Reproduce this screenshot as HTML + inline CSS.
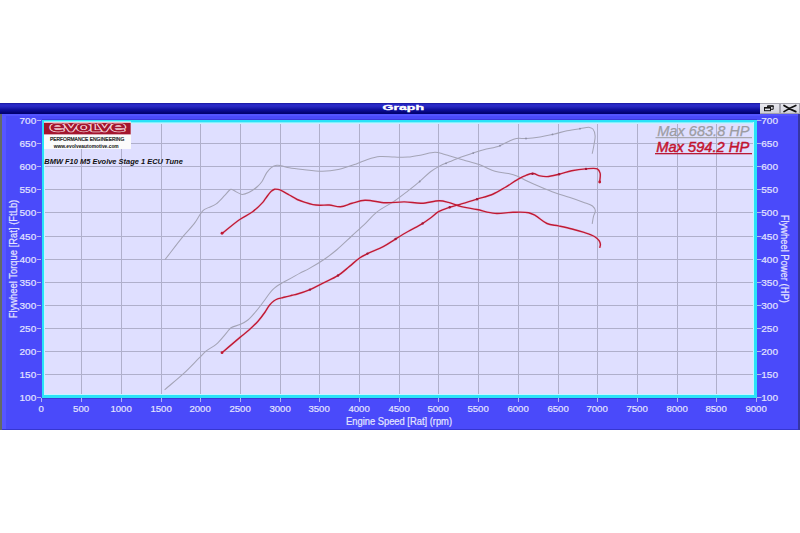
<!DOCTYPE html>
<html><head><meta charset="utf-8"><title>Graph</title>
<style>
html,body{margin:0;padding:0;background:#fff;width:800px;height:533px;overflow:hidden}
.win{position:absolute;left:0;top:103px;width:800px;height:327px;background:#4a4afa;border-bottom:1px solid #3636d0;box-sizing:border-box}
.tb{position:absolute;left:0;top:103px;width:800px;height:11px;
background:linear-gradient(to bottom,#12128e 0px,#2626c4 1px,#2a2ac6 3px,#1c1cb0 5px,#0c0c98 7px,#06067e 9px,#000070 10px,#000070 11px)}
.tt{position:absolute;left:382px;top:102px;width:42px;font:bold 9px "Liberation Sans",sans-serif;color:#fff;letter-spacing:1px;white-space:nowrap}
.btn{position:absolute;top:103.8px;height:9.4px;background:linear-gradient(#e8e8ee,#dcdce4 60%,#cfcfd8);}
svg{position:absolute;left:0;top:0}
.t{font-family:"Liberation Sans",sans-serif;font-size:10px;fill:#e4e4ff;stroke:#e4e4ff;stroke-width:0.2px}
</style></head><body>
<div class="win"></div>
<div style="position:absolute;left:0;top:114px;width:1.5px;height:316px;background:#646a64"></div>
<div style="position:absolute;left:1.5px;top:114px;width:4.5px;height:315px;background:#5656ff"></div>
<div style="position:absolute;left:797.8px;top:114px;width:2.2px;height:316px;background:#3636a4"></div>
<div class="tb"></div>
<div style="position:absolute;left:1.5px;top:114px;width:796px;height:2px;background:#5454ff"></div>
<div style="position:absolute;left:759.6px;top:103px;width:40.4px;height:10.6px;background:#a4a4ae"></div>
<div class="btn" style="left:760.4px;width:18.2px"></div>
<div class="btn" style="left:781px;width:17.8px"></div>
<svg width="800" height="533" viewBox="0 0 800 533">
<g>
<path d="M767.7 108 V106 H773.2 V109.3 H771" fill="none" stroke="#141414" stroke-width="1"/>
<rect x="767.2" y="105.4" width="6.5" height="1.3" fill="#141414"/>
<rect x="764.5" y="107.5" width="6" height="3.2" fill="none" stroke="#141414" stroke-width="1"/>
<rect x="764" y="107" width="7" height="1.6" fill="#141414"/>
<path d="M784 105.5 Q790 109.4 795.8 111.6 M784 111.6 Q790 107.8 795.8 105.5" fill="none" stroke="#111" stroke-width="1.7" stroke-linecap="round"/>
</g>
<text x="382.5" y="109.9" font-family="Liberation Sans, sans-serif" font-size="6.6" font-weight="bold" fill="#ffffff" stroke="#ffffff" stroke-width="0.3" textLength="41.5" lengthAdjust="spacingAndGlyphs">Graph</text>
<rect x="42" y="120" width="715" height="278" fill="#dfdfff"/>
<line x1="81.5" y1="120" x2="81.5" y2="398" stroke="#afafcb" stroke-width="1"/>
<line x1="121.5" y1="120" x2="121.5" y2="398" stroke="#afafcb" stroke-width="1"/>
<line x1="161.5" y1="120" x2="161.5" y2="398" stroke="#afafcb" stroke-width="1"/>
<line x1="200.5" y1="120" x2="200.5" y2="398" stroke="#afafcb" stroke-width="1"/>
<line x1="240.5" y1="120" x2="240.5" y2="398" stroke="#afafcb" stroke-width="1"/>
<line x1="280.5" y1="120" x2="280.5" y2="398" stroke="#afafcb" stroke-width="1"/>
<line x1="319.5" y1="120" x2="319.5" y2="398" stroke="#afafcb" stroke-width="1"/>
<line x1="359.5" y1="120" x2="359.5" y2="398" stroke="#afafcb" stroke-width="1"/>
<line x1="399.5" y1="120" x2="399.5" y2="398" stroke="#afafcb" stroke-width="1"/>
<line x1="438.5" y1="120" x2="438.5" y2="398" stroke="#afafcb" stroke-width="1"/>
<line x1="478.5" y1="120" x2="478.5" y2="398" stroke="#afafcb" stroke-width="1"/>
<line x1="518.5" y1="120" x2="518.5" y2="398" stroke="#afafcb" stroke-width="1"/>
<line x1="558.5" y1="120" x2="558.5" y2="398" stroke="#afafcb" stroke-width="1"/>
<line x1="597.5" y1="120" x2="597.5" y2="398" stroke="#afafcb" stroke-width="1"/>
<line x1="637.5" y1="120" x2="637.5" y2="398" stroke="#afafcb" stroke-width="1"/>
<line x1="677.5" y1="120" x2="677.5" y2="398" stroke="#afafcb" stroke-width="1"/>
<line x1="716.5" y1="120" x2="716.5" y2="398" stroke="#afafcb" stroke-width="1"/>
<line x1="42" y1="374.5" x2="757" y2="374.5" stroke="#afafcb" stroke-width="1"/>
<line x1="42" y1="351.5" x2="757" y2="351.5" stroke="#afafcb" stroke-width="1"/>
<line x1="42" y1="328.5" x2="757" y2="328.5" stroke="#afafcb" stroke-width="1"/>
<line x1="42" y1="305.5" x2="757" y2="305.5" stroke="#afafcb" stroke-width="1"/>
<line x1="42" y1="282.5" x2="757" y2="282.5" stroke="#afafcb" stroke-width="1"/>
<line x1="42" y1="259.5" x2="757" y2="259.5" stroke="#afafcb" stroke-width="1"/>
<line x1="42" y1="236.5" x2="757" y2="236.5" stroke="#afafcb" stroke-width="1"/>
<line x1="42" y1="212.5" x2="757" y2="212.5" stroke="#afafcb" stroke-width="1"/>
<line x1="42" y1="189.5" x2="757" y2="189.5" stroke="#afafcb" stroke-width="1"/>
<line x1="42" y1="166.5" x2="757" y2="166.5" stroke="#afafcb" stroke-width="1"/>
<line x1="42" y1="143.5" x2="757" y2="143.5" stroke="#afafcb" stroke-width="1"/>
<rect x="42" y="122" width="715" height="1" fill="#86eefc"/>
<rect x="42" y="123" width="715" height="1" fill="#c8f0ff"/>
<rect x="42" y="394" width="715" height="1" fill="#c4f6ff"/>
<rect x="44" y="120" width="1" height="278" fill="#c4f6ff"/>
<rect x="753" y="120" width="1" height="278" fill="#c4f6ff"/>
<rect x="42" y="120" width="2" height="278" fill="#2ae2f8"/>
<rect x="754" y="120" width="3" height="278" fill="#2ae2f8"/>
<rect x="42" y="120" width="715" height="2" fill="#2ae2f8"/>
<rect x="42" y="395" width="715" height="3" fill="#2ae2f8"/>
<rect x="41" y="398" width="716" height="1" fill="#3a3ad8"/>
<rect x="42" y="119" width="715" height="1" fill="#3a3ad8"/>
<rect x="44" y="121.5" width="87" height="27.5" fill="#fbfbfb"/>
<rect x="44" y="123" width="86.7" height="11.2" fill="#a3162e"/>
<rect x="44" y="122" width="86.7" height="0.8" fill="#e8b0bc"/>
<rect x="44" y="134.2" width="86.7" height="0.8" fill="#d89aa8"/>
<clipPath id="lg"><rect x="44" y="123.4" width="86.7" height="10.4"/></clipPath>
<g clip-path="url(#lg)"><text x="49.8" y="131.0" font-family="DejaVu Sans Light, DejaVu Sans, sans-serif" font-weight="200" font-size="12.6" fill="none" stroke="#f8d8e0" stroke-width="2.4" stroke-linejoin="round" textLength="76" lengthAdjust="spacingAndGlyphs">e<tspan style="font-variant:small-caps">volv</tspan>e</text>
<text x="49.8" y="131.0" font-family="DejaVu Sans Light, DejaVu Sans, sans-serif" font-weight="200" font-size="12.6" fill="#a3162e" stroke="#a3162e" stroke-width="1.1" stroke-linejoin="round" textLength="76" lengthAdjust="spacingAndGlyphs">e<tspan style="font-variant:small-caps">volv</tspan>e</text></g>
<text x="87.1" y="140.6" text-anchor="middle" font-family="Liberation Sans, sans-serif" font-size="5.6" fill="#101010" stroke="#101010" stroke-width="0.22" textLength="74.4" lengthAdjust="spacingAndGlyphs">PERFORMANCE ENGINEERING</text>
<text x="86.2" y="147.6" text-anchor="middle" font-family="Liberation Sans, sans-serif" font-size="5.4" font-weight="bold" fill="#101010" textLength="65" lengthAdjust="spacingAndGlyphs">www.evolveautomotive.com</text>
<text x="44.3" y="164" font-family="Liberation Sans, sans-serif" font-size="8" font-weight="bold" font-style="italic" fill="#101010" textLength="138.5" lengthAdjust="spacingAndGlyphs">BMW F10 M5 Evolve Stage 1 ECU Tune</text>
<text x="657.2" y="135.5" font-family="Liberation Sans, sans-serif" font-size="14.4" font-style="italic" fill="#9c9ca2" stroke="#9c9ca2" stroke-width="0.25" textLength="92.4" lengthAdjust="spacingAndGlyphs">Max 683.8 HP</text>
<rect x="655.5" y="137.1" width="96.5" height="1.1" fill="#a2a2a6"/>
<text x="656.2" y="151.9" font-family="Liberation Sans, sans-serif" font-size="14.4" font-style="italic" fill="#c4122e" stroke="#c4122e" stroke-width="0.45" textLength="93" lengthAdjust="spacingAndGlyphs">Max 594.2 HP</text>
<rect x="655" y="153" width="97" height="1.3" fill="#b81a36"/>
<path d="M164.90 259.80 C171.03 251.90 177.85 242.71 183.30 236.10 C187.39 231.14 191.06 227.75 194.40 223.40 C197.59 219.24 200.13 213.22 203.00 210.60 C204.83 208.93 206.49 208.62 208.50 207.60 C210.85 206.40 213.73 205.67 216.25 203.90 C219.26 201.78 222.38 197.84 225.00 195.20 C227.17 193.02 229.14 189.53 230.90 189.20 C232.02 188.99 232.73 190.01 234.00 190.60 C236.05 191.55 239.41 194.18 242.00 194.40 C244.31 194.60 246.45 193.58 248.75 192.50 C251.58 191.17 255.16 188.55 257.50 186.50 C259.36 184.87 260.59 183.51 262.00 181.50 C263.72 179.04 265.03 175.06 266.75 172.60 C268.16 170.59 269.51 168.83 271.25 167.60 C272.91 166.43 275.14 165.56 276.90 165.30 C278.35 165.09 279.41 165.42 281.00 165.70 C283.30 166.10 286.18 167.20 289.30 167.80 C293.24 168.56 297.87 169.06 302.80 169.60 C308.74 170.25 316.30 171.39 322.50 171.30 C328.05 171.22 332.88 170.63 338.25 169.50 C344.11 168.27 350.98 165.77 356.25 163.90 C360.47 162.40 363.61 160.62 367.50 159.40 C371.49 158.14 375.57 156.91 379.90 156.50 C384.54 156.06 389.73 157.00 394.50 157.10 C399.09 157.19 403.51 157.46 408.00 157.10 C412.51 156.73 417.01 155.72 421.50 154.90 C426.01 154.08 430.96 152.16 435.00 152.20 C438.31 152.24 441.31 153.50 444.00 154.20 C446.21 154.78 447.60 155.28 450.00 156.00 C453.60 157.07 458.82 158.63 463.50 160.00 C468.55 161.48 474.06 162.70 479.25 164.55 C484.56 166.45 489.86 169.79 495.00 171.30 C499.59 172.65 504.48 172.62 508.50 173.55 C511.83 174.32 514.55 175.08 517.50 176.25 C520.55 177.46 523.18 179.18 526.50 180.75 C530.53 182.66 535.36 184.83 540.00 186.80 C544.85 188.85 549.97 191.01 555.00 192.80 C559.97 194.57 565.17 195.89 570.00 197.50 C574.56 199.02 579.20 200.67 583.20 202.20 C586.59 203.49 590.45 204.25 592.50 206.00 C594.00 207.29 595.10 208.98 595.30 210.65 C595.51 212.40 594.00 214.27 593.50 216.30 C592.94 218.61 592.63 221.30 592.20 223.80" fill="none" stroke="#a4a4b6" stroke-width="1.05"/>
<path d="M164.60 389.80 C170.98 384.33 177.78 378.93 183.75 373.40 C189.37 368.19 195.34 361.75 199.50 357.60 C202.22 354.89 203.66 353.02 206.25 350.90 C209.19 348.49 213.18 346.88 216.40 344.10 C219.97 341.01 223.82 335.94 226.50 332.90 C228.31 330.85 229.02 329.04 231.00 327.70 C233.33 326.12 237.16 325.90 240.00 324.60 C242.79 323.32 245.41 321.99 247.90 320.00 C250.69 317.77 253.44 314.28 255.75 311.60 C257.73 309.31 259.33 307.16 261.00 305.00 C262.57 302.96 264.08 300.94 265.50 299.00 C266.82 297.20 267.96 295.39 269.25 293.75 C270.47 292.20 271.69 290.68 273.00 289.40 C274.20 288.22 275.44 287.25 276.75 286.30 C278.07 285.35 279.45 284.56 280.90 283.70 C282.44 282.79 284.03 281.95 285.75 281.00 C287.70 279.93 289.79 278.82 292.00 277.60 C294.51 276.21 297.24 274.57 300.00 273.10 C302.89 271.56 305.63 270.47 309.00 268.60 C313.57 266.07 319.90 262.33 324.75 259.00 C329.21 255.94 332.89 253.05 337.10 249.50 C341.86 245.49 346.96 240.40 351.75 236.00 C356.34 231.78 361.00 227.68 365.25 223.60 C369.22 219.79 372.08 215.83 376.50 212.30 C381.60 208.22 389.00 204.77 394.50 201.00 C399.40 197.64 403.73 194.20 408.00 190.90 C411.95 187.85 415.55 185.05 419.25 181.90 C423.05 178.67 426.84 174.52 430.50 171.75 C433.56 169.43 436.32 167.77 439.50 166.10 C442.80 164.37 446.43 163.08 450.00 161.60 C453.68 160.08 457.48 158.49 461.25 157.10 C464.98 155.72 468.75 154.53 472.50 153.30 C476.25 152.07 479.66 150.85 483.75 149.70 C488.54 148.36 495.06 147.52 499.50 145.90 C503.00 144.62 505.56 142.67 508.50 141.40 C511.19 140.24 513.56 139.01 516.40 138.50 C519.51 137.95 522.90 138.71 526.50 138.50 C530.68 138.25 535.51 137.61 540.00 136.90 C544.51 136.18 549.01 135.21 553.50 134.20 C558.01 133.18 562.48 131.74 567.00 130.80 C571.48 129.87 576.45 129.20 580.50 128.60 C583.80 128.11 587.25 127.05 589.50 127.40 C590.95 127.62 592.02 128.00 592.90 129.00 C594.11 130.37 594.86 133.31 595.10 135.75 C595.37 138.51 594.48 141.76 594.00 144.75 C593.52 147.76 592.80 150.75 592.20 153.75" fill="none" stroke="#a4a4b6" stroke-width="1.05"/>
<path d="M222.00 233.60 C227.80 229.00 233.88 223.64 239.40 219.80 C244.00 216.60 248.65 214.78 252.60 211.80 C256.30 209.01 260.21 205.16 262.50 202.60 C263.92 201.01 264.40 199.97 265.60 198.40 C267.19 196.33 269.48 192.88 271.25 191.30 C272.42 190.26 273.43 189.50 274.60 189.20 C275.69 188.92 276.81 189.15 278.00 189.40 C279.42 189.70 280.88 190.33 282.50 191.10 C284.57 192.08 286.95 193.66 289.30 195.00 C291.83 196.45 294.52 198.25 297.20 199.50 C299.76 200.70 302.37 201.55 305.00 202.40 C307.61 203.25 310.32 204.14 312.90 204.60 C315.31 205.03 317.47 205.12 320.00 205.20 C322.88 205.29 326.03 204.79 329.25 205.00 C332.83 205.23 336.76 206.96 340.50 206.70 C344.34 206.44 348.03 204.34 352.00 203.30 C356.18 202.20 360.15 200.56 365.00 200.30 C371.03 199.97 378.79 202.50 385.50 202.75 C391.94 202.99 398.35 201.80 404.50 201.90 C410.33 201.99 415.76 203.36 421.50 203.20 C427.42 203.03 434.54 200.69 439.50 200.80 C443.02 200.88 445.27 201.59 448.50 202.40 C452.41 203.39 456.73 205.44 461.25 206.60 C466.18 207.87 471.58 208.46 477.00 209.55 C482.81 210.71 488.97 212.96 495.00 213.40 C500.97 213.84 507.20 212.35 513.00 212.25 C518.42 212.15 524.66 211.80 528.75 212.70 C531.54 213.32 533.03 214.24 535.50 215.60 C538.91 217.48 542.99 221.79 547.00 223.50 C550.68 225.07 554.52 225.03 558.50 225.90 C562.82 226.85 567.72 227.90 572.00 229.00 C575.92 230.01 579.49 230.96 583.20 232.20 C586.96 233.46 591.58 234.78 594.40 236.50 C596.45 237.75 598.10 239.21 599.10 240.70 C599.89 241.88 600.32 243.18 600.40 244.40 C600.48 245.55 599.93 246.67 599.70 247.80" fill="none" stroke="#f0b4cc" stroke-width="2.8" stroke-opacity="0.3"/>
<path d="M222.00 352.70 C228.00 347.60 235.02 341.57 240.00 337.40 C243.50 334.47 246.06 332.64 249.00 330.00 C252.06 327.26 255.27 324.27 258.00 321.20 C260.62 318.25 263.10 314.84 265.10 312.00 C266.73 309.68 267.73 307.40 269.25 305.50 C270.63 303.78 272.15 302.16 273.75 301.00 C275.17 299.96 276.69 299.28 278.25 298.70 C279.80 298.12 281.48 297.88 283.10 297.50 C284.73 297.12 286.45 296.79 288.00 296.40 C289.41 296.05 290.56 295.67 292.00 295.30 C293.66 294.87 295.24 294.63 297.40 294.00 C300.74 293.02 305.86 291.36 310.00 289.60 C314.23 287.80 318.09 285.52 322.50 283.30 C327.45 280.81 333.58 278.39 338.25 275.40 C342.47 272.69 345.86 269.37 349.50 266.40 C352.97 263.57 356.34 260.24 359.60 258.00 C362.31 256.14 364.38 255.16 367.50 253.60 C371.81 251.45 378.46 249.14 383.25 246.60 C387.54 244.33 390.97 241.76 395.00 239.30 C399.21 236.73 403.56 234.05 408.00 231.50 C412.56 228.88 417.96 226.28 422.00 223.80 C425.24 221.81 427.74 220.02 430.50 218.00 C433.24 215.99 435.47 213.45 438.50 211.70 C441.78 209.80 445.93 208.49 449.60 207.25 C453.09 206.08 456.12 205.53 460.00 204.40 C464.98 202.96 471.44 200.92 477.00 199.20 C482.35 197.54 487.92 196.31 492.75 194.25 C497.19 192.35 500.93 189.90 505.00 187.50 C509.18 185.03 513.62 181.79 517.50 179.60 C520.70 177.80 523.66 176.12 526.50 175.10 C528.86 174.25 531.02 173.43 533.25 173.55 C535.52 173.67 537.70 175.39 540.00 175.90 C542.28 176.40 544.37 176.72 547.00 176.60 C550.45 176.44 554.88 175.24 558.90 174.30 C563.11 173.32 567.32 171.70 571.70 170.80 C576.18 169.88 581.07 169.20 585.50 168.90 C589.58 168.62 594.88 167.61 597.30 168.90 C598.88 169.75 599.61 171.34 600.10 173.10 C600.75 175.44 599.83 179.03 599.70 182.00" fill="none" stroke="#f0b4cc" stroke-width="2.8" stroke-opacity="0.3"/>
<path d="M222.00 233.60 C227.80 229.00 233.88 223.64 239.40 219.80 C244.00 216.60 248.65 214.78 252.60 211.80 C256.30 209.01 260.21 205.16 262.50 202.60 C263.92 201.01 264.40 199.97 265.60 198.40 C267.19 196.33 269.48 192.88 271.25 191.30 C272.42 190.26 273.43 189.50 274.60 189.20 C275.69 188.92 276.81 189.15 278.00 189.40 C279.42 189.70 280.88 190.33 282.50 191.10 C284.57 192.08 286.95 193.66 289.30 195.00 C291.83 196.45 294.52 198.25 297.20 199.50 C299.76 200.70 302.37 201.55 305.00 202.40 C307.61 203.25 310.32 204.14 312.90 204.60 C315.31 205.03 317.47 205.12 320.00 205.20 C322.88 205.29 326.03 204.79 329.25 205.00 C332.83 205.23 336.76 206.96 340.50 206.70 C344.34 206.44 348.03 204.34 352.00 203.30 C356.18 202.20 360.15 200.56 365.00 200.30 C371.03 199.97 378.79 202.50 385.50 202.75 C391.94 202.99 398.35 201.80 404.50 201.90 C410.33 201.99 415.76 203.36 421.50 203.20 C427.42 203.03 434.54 200.69 439.50 200.80 C443.02 200.88 445.27 201.59 448.50 202.40 C452.41 203.39 456.73 205.44 461.25 206.60 C466.18 207.87 471.58 208.46 477.00 209.55 C482.81 210.71 488.97 212.96 495.00 213.40 C500.97 213.84 507.20 212.35 513.00 212.25 C518.42 212.15 524.66 211.80 528.75 212.70 C531.54 213.32 533.03 214.24 535.50 215.60 C538.91 217.48 542.99 221.79 547.00 223.50 C550.68 225.07 554.52 225.03 558.50 225.90 C562.82 226.85 567.72 227.90 572.00 229.00 C575.92 230.01 579.49 230.96 583.20 232.20 C586.96 233.46 591.58 234.78 594.40 236.50 C596.45 237.75 598.10 239.21 599.10 240.70 C599.89 241.88 600.32 243.18 600.40 244.40 C600.48 245.55 599.93 246.67 599.70 247.80" fill="none" stroke="#c01a34" stroke-width="1.4"/>
<path d="M222.00 352.70 C228.00 347.60 235.02 341.57 240.00 337.40 C243.50 334.47 246.06 332.64 249.00 330.00 C252.06 327.26 255.27 324.27 258.00 321.20 C260.62 318.25 263.10 314.84 265.10 312.00 C266.73 309.68 267.73 307.40 269.25 305.50 C270.63 303.78 272.15 302.16 273.75 301.00 C275.17 299.96 276.69 299.28 278.25 298.70 C279.80 298.12 281.48 297.88 283.10 297.50 C284.73 297.12 286.45 296.79 288.00 296.40 C289.41 296.05 290.56 295.67 292.00 295.30 C293.66 294.87 295.24 294.63 297.40 294.00 C300.74 293.02 305.86 291.36 310.00 289.60 C314.23 287.80 318.09 285.52 322.50 283.30 C327.45 280.81 333.58 278.39 338.25 275.40 C342.47 272.69 345.86 269.37 349.50 266.40 C352.97 263.57 356.34 260.24 359.60 258.00 C362.31 256.14 364.38 255.16 367.50 253.60 C371.81 251.45 378.46 249.14 383.25 246.60 C387.54 244.33 390.97 241.76 395.00 239.30 C399.21 236.73 403.56 234.05 408.00 231.50 C412.56 228.88 417.96 226.28 422.00 223.80 C425.24 221.81 427.74 220.02 430.50 218.00 C433.24 215.99 435.47 213.45 438.50 211.70 C441.78 209.80 445.93 208.49 449.60 207.25 C453.09 206.08 456.12 205.53 460.00 204.40 C464.98 202.96 471.44 200.92 477.00 199.20 C482.35 197.54 487.92 196.31 492.75 194.25 C497.19 192.35 500.93 189.90 505.00 187.50 C509.18 185.03 513.62 181.79 517.50 179.60 C520.70 177.80 523.66 176.12 526.50 175.10 C528.86 174.25 531.02 173.43 533.25 173.55 C535.52 173.67 537.70 175.39 540.00 175.90 C542.28 176.40 544.37 176.72 547.00 176.60 C550.45 176.44 554.88 175.24 558.90 174.30 C563.11 173.32 567.32 171.70 571.70 170.80 C576.18 169.88 581.07 169.20 585.50 168.90 C589.58 168.62 594.88 167.61 597.30 168.90 C598.88 169.75 599.61 171.34 600.10 173.10 C600.75 175.44 599.83 179.03 599.70 182.00" fill="none" stroke="#c01a34" stroke-width="1.4"/>
<circle cx="310" cy="289.60" r="1.2" fill="#a01838"/>
<circle cx="338" cy="275.53" r="1.2" fill="#a01838"/>
<circle cx="367.5" cy="253.60" r="1.2" fill="#a01838"/>
<circle cx="395.6" cy="238.94" r="1.2" fill="#a01838"/>
<circle cx="422.6" cy="223.39" r="1.2" fill="#a01838"/>
<circle cx="449.7" cy="207.22" r="1.2" fill="#a01838"/>
<circle cx="477" cy="199.20" r="1.2" fill="#a01838"/>
<circle cx="532.5" cy="173.72" r="1.2" fill="#a01838"/>
<circle cx="559" cy="174.27" r="1.2" fill="#a01838"/>
<circle cx="586" cy="168.90" r="1.2" fill="#a01838"/>
<circle cx="419.7" cy="181.49" r="0.9" fill="#8c8ca4"/>
<circle cx="446" cy="163.31" r="0.9" fill="#8c8ca4"/>
<circle cx="473.2" cy="153.08" r="0.9" fill="#8c8ca4"/>
<circle cx="500" cy="145.65" r="0.9" fill="#8c8ca4"/>
<circle cx="526" cy="138.50" r="0.9" fill="#8c8ca4"/>
<circle cx="552.5" cy="134.40" r="0.9" fill="#8c8ca4"/>
<circle cx="580" cy="128.68" r="0.9" fill="#8c8ca4"/>
<circle cx="599.7" cy="182" r="1.4" fill="#c01a34"/>
<circle cx="222" cy="352.7" r="1.4" fill="#c01a34"/>
<circle cx="222" cy="233.25" r="1.4" fill="#c01a34"/>
<line x1="37" y1="397.5" x2="41" y2="397.5" stroke="#b4b4f4" stroke-width="1"/>
<line x1="757" y1="397.5" x2="761.5" y2="397.5" stroke="#b4b4f4" stroke-width="1"/>
<text transform="matrix(1,0,0,0.94,36.2,400.95)" text-anchor="end" class="t">100</text>
<text transform="matrix(1,0,0,0.94,761.3,400.95)" class="t">100</text>
<line x1="37" y1="374.5" x2="41" y2="374.5" stroke="#b4b4f4" stroke-width="1"/>
<line x1="757" y1="374.5" x2="761.5" y2="374.5" stroke="#b4b4f4" stroke-width="1"/>
<text transform="matrix(1,0,0,0.94,36.2,377.95)" text-anchor="end" class="t">150</text>
<text transform="matrix(1,0,0,0.94,761.3,377.95)" class="t">150</text>
<line x1="37" y1="351.5" x2="41" y2="351.5" stroke="#b4b4f4" stroke-width="1"/>
<line x1="757" y1="351.5" x2="761.5" y2="351.5" stroke="#b4b4f4" stroke-width="1"/>
<text transform="matrix(1,0,0,0.94,36.2,354.95)" text-anchor="end" class="t">200</text>
<text transform="matrix(1,0,0,0.94,761.3,354.95)" class="t">200</text>
<line x1="37" y1="328.5" x2="41" y2="328.5" stroke="#b4b4f4" stroke-width="1"/>
<line x1="757" y1="328.5" x2="761.5" y2="328.5" stroke="#b4b4f4" stroke-width="1"/>
<text transform="matrix(1,0,0,0.94,36.2,331.95)" text-anchor="end" class="t">250</text>
<text transform="matrix(1,0,0,0.94,761.3,331.95)" class="t">250</text>
<line x1="37" y1="305.5" x2="41" y2="305.5" stroke="#b4b4f4" stroke-width="1"/>
<line x1="757" y1="305.5" x2="761.5" y2="305.5" stroke="#b4b4f4" stroke-width="1"/>
<text transform="matrix(1,0,0,0.94,36.2,308.95)" text-anchor="end" class="t">300</text>
<text transform="matrix(1,0,0,0.94,761.3,308.95)" class="t">300</text>
<line x1="37" y1="282.5" x2="41" y2="282.5" stroke="#b4b4f4" stroke-width="1"/>
<line x1="757" y1="282.5" x2="761.5" y2="282.5" stroke="#b4b4f4" stroke-width="1"/>
<text transform="matrix(1,0,0,0.94,36.2,285.95)" text-anchor="end" class="t">350</text>
<text transform="matrix(1,0,0,0.94,761.3,285.95)" class="t">350</text>
<line x1="37" y1="259.5" x2="41" y2="259.5" stroke="#b4b4f4" stroke-width="1"/>
<line x1="757" y1="259.5" x2="761.5" y2="259.5" stroke="#b4b4f4" stroke-width="1"/>
<text transform="matrix(1,0,0,0.94,36.2,262.95)" text-anchor="end" class="t">400</text>
<text transform="matrix(1,0,0,0.94,761.3,262.95)" class="t">400</text>
<line x1="37" y1="236.5" x2="41" y2="236.5" stroke="#b4b4f4" stroke-width="1"/>
<line x1="757" y1="236.5" x2="761.5" y2="236.5" stroke="#b4b4f4" stroke-width="1"/>
<text transform="matrix(1,0,0,0.94,36.2,239.95)" text-anchor="end" class="t">450</text>
<text transform="matrix(1,0,0,0.94,761.3,239.95)" class="t">450</text>
<line x1="37" y1="212.5" x2="41" y2="212.5" stroke="#b4b4f4" stroke-width="1"/>
<line x1="757" y1="212.5" x2="761.5" y2="212.5" stroke="#b4b4f4" stroke-width="1"/>
<text transform="matrix(1,0,0,0.94,36.2,215.95)" text-anchor="end" class="t">500</text>
<text transform="matrix(1,0,0,0.94,761.3,215.95)" class="t">500</text>
<line x1="37" y1="189.5" x2="41" y2="189.5" stroke="#b4b4f4" stroke-width="1"/>
<line x1="757" y1="189.5" x2="761.5" y2="189.5" stroke="#b4b4f4" stroke-width="1"/>
<text transform="matrix(1,0,0,0.94,36.2,192.95)" text-anchor="end" class="t">550</text>
<text transform="matrix(1,0,0,0.94,761.3,192.95)" class="t">550</text>
<line x1="37" y1="166.5" x2="41" y2="166.5" stroke="#b4b4f4" stroke-width="1"/>
<line x1="757" y1="166.5" x2="761.5" y2="166.5" stroke="#b4b4f4" stroke-width="1"/>
<text transform="matrix(1,0,0,0.94,36.2,169.95)" text-anchor="end" class="t">600</text>
<text transform="matrix(1,0,0,0.94,761.3,169.95)" class="t">600</text>
<line x1="37" y1="143.5" x2="41" y2="143.5" stroke="#b4b4f4" stroke-width="1"/>
<line x1="757" y1="143.5" x2="761.5" y2="143.5" stroke="#b4b4f4" stroke-width="1"/>
<text transform="matrix(1,0,0,0.94,36.2,146.95)" text-anchor="end" class="t">650</text>
<text transform="matrix(1,0,0,0.94,761.3,146.95)" class="t">650</text>
<line x1="37" y1="120.5" x2="41" y2="120.5" stroke="#b4b4f4" stroke-width="1"/>
<line x1="757" y1="120.5" x2="761.5" y2="120.5" stroke="#b4b4f4" stroke-width="1"/>
<text transform="matrix(1,0,0,0.94,36.2,123.95)" text-anchor="end" class="t">700</text>
<text transform="matrix(1,0,0,0.94,761.3,123.95)" class="t">700</text>
<line x1="41.5" y1="398" x2="41.5" y2="402" stroke="#b4b4f4" stroke-width="1"/>
<text transform="matrix(0.96,0,0,0.94,41.1,411.6)" text-anchor="middle" class="t">0</text>
<line x1="81.5" y1="398" x2="81.5" y2="402" stroke="#b4b4f4" stroke-width="1"/>
<text transform="matrix(0.96,0,0,0.94,81.1,411.6)" text-anchor="middle" class="t">500</text>
<line x1="121.5" y1="398" x2="121.5" y2="402" stroke="#b4b4f4" stroke-width="1"/>
<text transform="matrix(0.96,0,0,0.94,121.1,411.6)" text-anchor="middle" class="t">1000</text>
<line x1="161.5" y1="398" x2="161.5" y2="402" stroke="#b4b4f4" stroke-width="1"/>
<text transform="matrix(0.96,0,0,0.94,161.1,411.6)" text-anchor="middle" class="t">1500</text>
<line x1="200.5" y1="398" x2="200.5" y2="402" stroke="#b4b4f4" stroke-width="1"/>
<text transform="matrix(0.96,0,0,0.94,200.1,411.6)" text-anchor="middle" class="t">2000</text>
<line x1="240.5" y1="398" x2="240.5" y2="402" stroke="#b4b4f4" stroke-width="1"/>
<text transform="matrix(0.96,0,0,0.94,240.1,411.6)" text-anchor="middle" class="t">2500</text>
<line x1="280.5" y1="398" x2="280.5" y2="402" stroke="#b4b4f4" stroke-width="1"/>
<text transform="matrix(0.96,0,0,0.94,280.1,411.6)" text-anchor="middle" class="t">3000</text>
<line x1="319.5" y1="398" x2="319.5" y2="402" stroke="#b4b4f4" stroke-width="1"/>
<text transform="matrix(0.96,0,0,0.94,319.1,411.6)" text-anchor="middle" class="t">3500</text>
<line x1="359.5" y1="398" x2="359.5" y2="402" stroke="#b4b4f4" stroke-width="1"/>
<text transform="matrix(0.96,0,0,0.94,359.1,411.6)" text-anchor="middle" class="t">4000</text>
<line x1="399.5" y1="398" x2="399.5" y2="402" stroke="#b4b4f4" stroke-width="1"/>
<text transform="matrix(0.96,0,0,0.94,399.1,411.6)" text-anchor="middle" class="t">4500</text>
<line x1="438.5" y1="398" x2="438.5" y2="402" stroke="#b4b4f4" stroke-width="1"/>
<text transform="matrix(0.96,0,0,0.94,438.1,411.6)" text-anchor="middle" class="t">5000</text>
<line x1="478.5" y1="398" x2="478.5" y2="402" stroke="#b4b4f4" stroke-width="1"/>
<text transform="matrix(0.96,0,0,0.94,478.1,411.6)" text-anchor="middle" class="t">5500</text>
<line x1="518.5" y1="398" x2="518.5" y2="402" stroke="#b4b4f4" stroke-width="1"/>
<text transform="matrix(0.96,0,0,0.94,518.1,411.6)" text-anchor="middle" class="t">6000</text>
<line x1="558.5" y1="398" x2="558.5" y2="402" stroke="#b4b4f4" stroke-width="1"/>
<text transform="matrix(0.96,0,0,0.94,558.1,411.6)" text-anchor="middle" class="t">6500</text>
<line x1="597.5" y1="398" x2="597.5" y2="402" stroke="#b4b4f4" stroke-width="1"/>
<text transform="matrix(0.96,0,0,0.94,597.1,411.6)" text-anchor="middle" class="t">7000</text>
<line x1="637.5" y1="398" x2="637.5" y2="402" stroke="#b4b4f4" stroke-width="1"/>
<text transform="matrix(0.96,0,0,0.94,637.1,411.6)" text-anchor="middle" class="t">7500</text>
<line x1="677.5" y1="398" x2="677.5" y2="402" stroke="#b4b4f4" stroke-width="1"/>
<text transform="matrix(0.96,0,0,0.94,677.1,411.6)" text-anchor="middle" class="t">8000</text>
<line x1="716.5" y1="398" x2="716.5" y2="402" stroke="#b4b4f4" stroke-width="1"/>
<text transform="matrix(0.96,0,0,0.94,716.1,411.6)" text-anchor="middle" class="t">8500</text>
<line x1="756.5" y1="398" x2="756.5" y2="402" stroke="#b4b4f4" stroke-width="1"/>
<text transform="matrix(0.96,0,0,0.94,756.1,411.6)" text-anchor="middle" class="t">9000</text>
<text x="399" y="424.6" text-anchor="middle" class="t" textLength="106" lengthAdjust="spacingAndGlyphs">Engine Speed [Rat] (rpm)</text>
<text transform="translate(17,259) rotate(-90)" text-anchor="middle" class="t" textLength="118.5" lengthAdjust="spacingAndGlyphs">Flywheel Torque [Rat] (FtLb)</text>
<text transform="translate(780.6,258.8) rotate(90)" text-anchor="middle" class="t" textLength="88" lengthAdjust="spacingAndGlyphs">Flywheel Power (HP)</text>
</svg>
</body></html>
